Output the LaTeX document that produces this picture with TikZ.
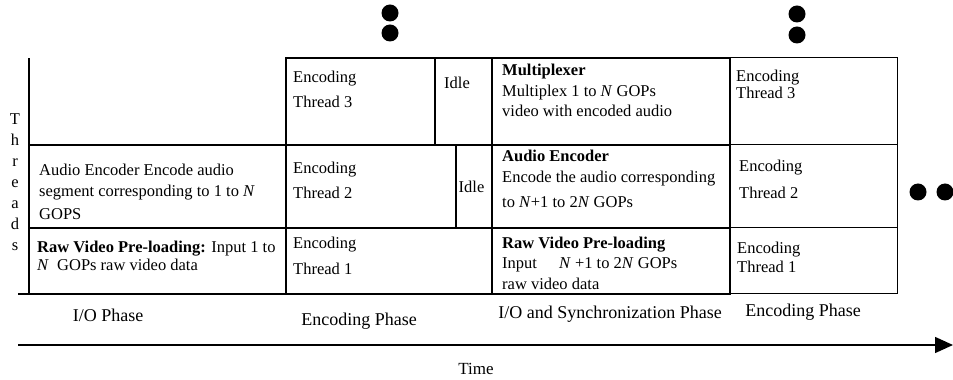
\documentclass[tikz,border=0pt]{standalone}
\usepackage{fontspec}
\setmainfont{Liberation Serif}
\usetikzlibrary{arrows.meta}

\begin{document}
\begin{tikzpicture}[x=1pt, y=1pt,
    cell/.style={rectangle, draw=black, line width=1.5pt, inner sep=0pt, outer sep=0pt, anchor=north west},
    lastcell/.style={cell, line width=1pt},
    txt/.style={anchor=north west, align=left, inner sep=0pt, font=\fontsize{16.5}{20}\selectfont},
    idletxt/.style={inner sep=0pt, font=\fontsize{16.5}{20}\selectfont},
    phase/.style={anchor=base, inner sep=0pt, font=\fontsize{18}{21}\selectfont},
    rule/.style={line width=1.5pt},
    timeline/.style={-{Triangle[length=18pt, width=16pt]}, line width=1.5pt}
]
\useasboundingbox (0,0) rectangle (953,380);

% I/O phase (left column, top row left empty)
\node[cell, minimum width=257, minimum height=83] (audio) at (29,235) {};
\node[cell, minimum width=257, minimum height=66] (rawio) at (29,152) {};
\draw[rule] (audio.north west) -- ++(0,87);
\draw[rule] (rawio.south west) -- ++(-11,0);

\node[txt] (audiotxt) at ([shift={(10,-18.7)}]audio.north west) {Audio Encoder Encode audio\\[1pt] segment corresponding to 1 to \textit{N}\\[3pt] GOPS};
\node[txt] (rawiotxt) at ([shift={(8,-12.7)}]rawio.north west) {\textbf{Raw Video Pre-loading:} Input 1 to\\[-2pt] \textit{N}~ GOPs raw video data};

% Encoding phase
\node[cell, minimum width=149, minimum height=87] (enc3)  at (286,322) {};
\node[cell, minimum width=57,  minimum height=87] (idle3) at (435,322) {};
\node[cell, minimum width=170, minimum height=83] (enc2)  at (286,235) {};
\node[cell, minimum width=36,  minimum height=83] (idle2) at (456,235) {};
\node[cell, minimum width=206, minimum height=66] (enc1)  at (286,152) {};

\node[txt] (enc3txt) at ([shift={(7,-13.2)}]enc3.north west) {Encoding\\[5pt] Thread 3};
\node[txt] (enc2txt) at ([shift={(7,-17.2)}]enc2.north west) {Encoding\\[5pt] Thread 2};
\node[txt] (enc1txt) at ([shift={(7,-9.2)}]enc1.north west) {Encoding\\[6pt] Thread 1};
\node[idletxt] (idle3txt) at ([shift={(-6.5,-25)}]idle3.north) {Idle};
\node[idletxt] (idle2txt) at ([xshift=-2.5]idle2.center) {Idle};

% I/O and synchronization phase
\node[cell, minimum width=238, minimum height=87] (mux)    at (492,322) {};
\node[cell, minimum width=238, minimum height=83] (aenc)   at (492,235) {};
\node[cell, minimum width=238, minimum height=66] (rawvid) at (492,152) {};

\node[txt] (muxtxt) at ([shift={(10,-6.2)}]mux.north west) {\textbf{Multiplexer}\\[1pt] Multiplex 1 to \textit{N} GOPs\\[0pt] video with encoded audio};
\node[txt] (aenctxt) at ([shift={(10,-4.7)}]aenc.north west) {\textbf{Audio Encoder}\\[1.5pt] Encode the audio corresponding\\[4.5pt] to \textit{N}+1 to 2\textit{N} GOPs};
\node[txt] (rawvidtxt) at ([shift={(10,-8.7)}]rawvid.north west) {\textbf{Raw Video Pre-loading}\\[0.5pt] Input\hspace{18pt} \textit{N} +1 to 2\textit{N} GOPs\\[0.5pt] raw video data};

% next encoding phase
\node[lastcell, minimum width=167, minimum height=87] (enc3b) at (730,322) {};
\node[lastcell, minimum width=167, minimum height=83] (enc2b) at (730,235) {};
\node[lastcell, minimum width=167, minimum height=66] (enc1b) at (730,152) {};

\node[txt] (enc3btxt) at ([shift={(6,-11.7)}]enc3b.north west) {Encoding\\[-2.5pt] Thread 3};
\node[txt] (enc2btxt) at ([shift={(9,-15.2)}]enc2b.north west) {Encoding\\[7pt] Thread 2};
\node[txt] (enc1btxt) at ([shift={(7,-14.2)}]enc1b.north west) {Encoding\\[-1pt] Thread 1};

% axis label and dots
\node[anchor=north, align=center, inner sep=0pt, font=\fontsize{16.5}{21}\selectfont] (threads) at (15,267) {T\\h\\r\\e\\a\\d\\s};
\foreach \x/\y in {390/367, 390/347, 797/366, 797/345, 918/188, 945/188}
    \fill (\x,\y) circle (8.5);

% phases and time axis
\node[phase] (iophase)   at (108,58) {I/O Phase};
\node[phase] (encphase)  at (359,54) {Encoding Phase};
\node[phase] (syncphase) at (610,61) {I/O and Synchronization Phase};
\node[phase] (encphaseb) at (803,63) {Encoding Phase};

\coordinate (tstart) at (18,35);
\coordinate (tend)   at (953,35);
\draw[timeline] (tstart) -- (tend);
\node[phase, font=\fontsize{17}{20}\selectfont] (time) at (476,5) {Time};

\end{tikzpicture}
\end{document}
